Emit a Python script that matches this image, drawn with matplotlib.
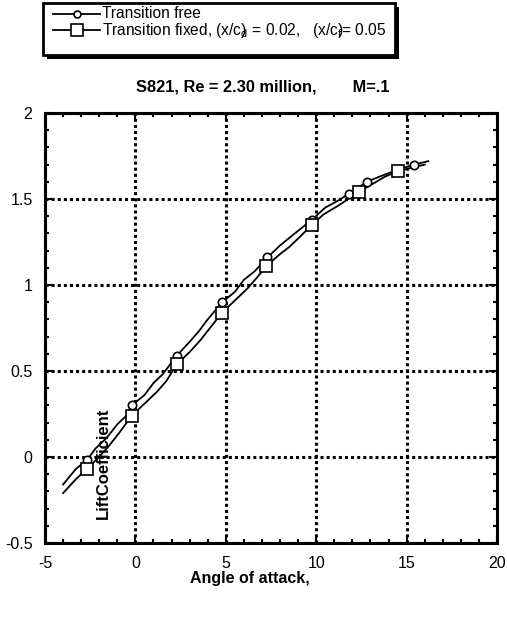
import matplotlib
matplotlib.use("Agg")
import matplotlib.pyplot as plt
from matplotlib.lines import Line2D
from matplotlib.patches import Rectangle
from matplotlib.ticker import MultipleLocator

plt.rcParams['font.family'] = ['Liberation Sans', 'DejaVu Sans']
plt.rcParams['axes.unicode_minus'] = False
plt.rcParams['mathtext.default'] = 'regular'

# transition free (smooth line + measured points)
free_alpha = [-4.0, -3.3, -2.7, -2.2, -1.6, -1.0, -0.5, -0.2, 0.5, 1.0, 1.5, 2.3,
              3.0, 3.5, 4.0, 4.8, 5.5, 6.0, 6.6, 7.3, 8.0, 8.7, 9.77, 10.5,
              11.2, 11.8, 12.8, 13.5, 14.5, 15.4, 16.2]
free_cl = [-0.16, -0.07, -0.02, 0.05, 0.11, 0.19, 0.24, 0.30, 0.36, 0.43, 0.48, 0.59,
           0.67, 0.73, 0.80, 0.90, 0.96, 1.03, 1.08, 1.16, 1.23, 1.29, 1.38, 1.45,
           1.49, 1.53, 1.60, 1.63, 1.67, 1.70, 1.72]
free_mk_alpha = [-2.7, -0.2, 2.3, 4.8, 7.3, 9.77, 11.8, 12.8, 15.4]
free_mk_cl = [-0.02, 0.30, 0.59, 0.90, 1.16, 1.38, 1.53, 1.60, 1.70]

# transition fixed
fixed_alpha = [-4.0, -3.3, -2.7, -2.1, -1.5, -0.9, -0.2, 0.5, 1.2, 1.7, 2.3, 3.0,
               3.6, 4.2, 4.8, 5.5, 6.2, 6.7, 7.25, 8.0, 8.5, 9.0, 9.77, 10.4,
               11.2, 12.35, 13.0, 13.8, 14.5, 15.2, 16.0]
fixed_cl = [-0.21, -0.13, -0.07, -0.01, 0.06, 0.14, 0.24, 0.31, 0.38, 0.44, 0.54, 0.61,
            0.68, 0.76, 0.84, 0.91, 0.98, 1.04, 1.11, 1.18, 1.22, 1.27, 1.35, 1.41,
            1.46, 1.54, 1.58, 1.63, 1.66, 1.68, 1.70]
fixed_mk_alpha = [-2.7, -0.2, 2.3, 4.8, 7.25, 9.77, 12.35, 14.5]
fixed_mk_cl = [-0.07, 0.24, 0.54, 0.84, 1.11, 1.35, 1.54, 1.66]

labels = ['Transition free',
          'Transition fixed, (x/c)$\\!\\!_d$ = 0.02,   (x/c)$\\!\\!_f$= 0.05']

W, H = 507, 621
fig = plt.figure(figsize=(W/100, H/100), dpi=100)
ax = fig.add_axes([45/W, 1-543/H, 452/W, 430/H])

ax.plot(free_alpha, free_cl, color='black', lw=1.3)
ax.plot(fixed_alpha, fixed_cl, color='black', lw=1.3)
ax.plot(free_mk_alpha, free_mk_cl, 'o', ms=6, mfc='white', mec='black', mew=1.2, ls='none')
ax.plot(fixed_mk_alpha, fixed_mk_cl, 's', ms=8, mfc='white', mec='black', mew=1.2, ls='none')

ax.set_xlim(-5, 20)
ax.set_ylim(-0.5, 2)
ax.xaxis.set_major_locator(MultipleLocator(5))
ax.xaxis.set_minor_locator(MultipleLocator(1))
ax.yaxis.set_major_locator(MultipleLocator(0.5))
ax.yaxis.set_minor_locator(MultipleLocator(0.1))
ax.set_xticklabels([f'{v:g}' for v in ax.get_xticks()])
ax.set_yticklabels([f'{v:g}' for v in ax.get_yticks()])
ax.tick_params(which='both', direction='in', top=True, right=True, labelsize=11.5,
               width=1.5, pad=9)
ax.tick_params(which='major', length=6)
ax.tick_params(which='minor', length=3)
for s in ax.spines.values():
    s.set_linewidth(2.2)
    s.set_linestyle((0, (1, 0.6)))
ax.grid(True, which='major', color='black', lw=2.2, ls=(0, (1, 1)))

ax.text(0.13, 0.055, 'LiftCoefficient', transform=ax.transAxes, rotation=90,
        fontsize=12, fontweight='bold', ha='center', va='bottom')
fig.text(250/W, 1-578/H, 'Angle of attack,', fontsize=11.5, fontweight='bold',
         ha='center', va='center')
fig.text(136/W, 1-87/H, 'S821, Re = 2.30 million,        M=.1', fontsize=11.8,
         fontweight='bold', ha='left', va='center')

# legend box drawn in its own pixel-space axes, on top of a black shadow
lx0, ly0, lx1, ly1 = 43, 3, 395, 55
lax = fig.add_axes([lx0/W, 1-ly1/H, (lx1-lx0)/W, (ly1-ly0)/H])
lax.set_zorder(3)
lax.set_xlim(0, lx1-lx0)
lax.set_ylim(ly1-ly0, 0)
lax.axis('off')
lax.add_patch(Rectangle((4, 4), lx1-lx0, ly1-ly0, facecolor='black',
                        edgecolor='none', clip_on=False, zorder=0))
lax.add_patch(Rectangle((0, 0), lx1-lx0, ly1-ly0, facecolor='white',
                        edgecolor='black', lw=2, clip_on=False, zorder=1))
markers = [('o', 5), ('s', 8)]
for i, (lab, (m, ms)) in enumerate(zip(labels, markers)):
    yy = 11 + 16*i
    lax.add_line(Line2D([10, 57], [yy, yy], color='black', lw=1.3, zorder=2))
    lax.plot([33.5], [yy], m, ms=ms, mfc='white', mec='black', mew=1.2, zorder=3)
    lax.text(59, yy, lab, fontsize=11.2, ha='left', va='center', zorder=3)

fig.savefig('out.png', dpi=100)
